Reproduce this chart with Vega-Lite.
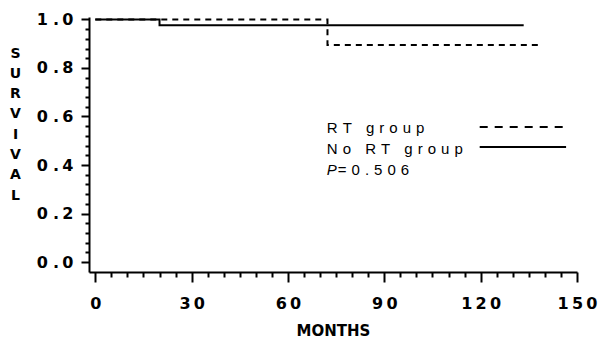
{
  "$schema": "https://vega.github.io/schema/vega-lite/v6.json",
  "width": 488,
  "height": 255,
  "autosize": "none",
  "padding": {"left": 89, "top": 17, "right": 21, "bottom": 67},
  "background": "white",
  "config": {"view": {"stroke": null}},
  "layer": [
    {
      "data": {"values": [
        {"group": "RT group", "month": 0, "surv": 1.0},
        {"group": "RT group", "month": 72.3, "surv": 0.895},
        {"group": "RT group", "month": 139.3, "surv": 0.895},
        {"group": "No RT group", "month": 0, "surv": 1.0},
        {"group": "No RT group", "month": 20, "surv": 0.976},
        {"group": "No RT group", "month": 133.4, "surv": 0.976}
      ]},
      "mark": {"type": "line", "interpolate": "step-after", "color": "black", "strokeWidth": 2},
      "encoding": {
        "x": {
          "field": "month", "type": "quantitative",
          "scale": {"domain": [-1.96, 150], "nice": false, "zero": false},
          "axis": {
            "title": "MONTHS",
            "values": [0,5,10,15,20,25,30,35,40,45,50,55,60,65,70,75,80,85,90,95,100,105,110,115,120,125,130,135,140,145,150],
            "tickCount": 100,
            "labelExpr": "datum.value % 30 === 0 ? join(split(datum.label, ''), '\u2009') : ''",
            "tickSize": {"condition": {"test": "datum.value % 30 === 0", "value": 10}, "value": 5},
            "tickWidth": 2, "tickColor": "black",
            "domainWidth": 2, "domainColor": "black",
            "grid": false,
            "labelFont": "DejaVu Sans", "labelFontWeight": "bold", "labelFontSize": 16, "labelColor": "black",
            "labelPadding": 13, "labelFlush": false, "labelOverlap": false,
            "titleFont": "DejaVu Sans", "titleFontWeight": "bold", "titleFontSize": 15, "titleColor": "black",
            "titleBaseline": "alphabetic", "titleY": 63
          }
        },
        "y": {
          "field": "surv", "type": "quantitative",
          "scale": {"domain": [-0.041, 1.01], "nice": false, "zero": false},
          "axis": {
            "title": ["S", "U", "R", "V", "I", "V", "A", "L"],
            "values": [0,0.04,0.08,0.12,0.16,0.2,0.24,0.28,0.32,0.36,0.4,0.44,0.48,0.52,0.56,0.6,0.64,0.68,0.72,0.76,0.8,0.84,0.88,0.92,0.96,1],
            "tickCount": 100,
            "labelExpr": "indexof([0,0.2,0.4,0.6,0.8,1], datum.value) >= 0 ? replace(format(datum.value, '.1f'), '.', '\u2004.\u2009') : ''",
            "tickSize": {"condition": {"test": "indexof([0,0.2,0.4,0.6,0.8,1], datum.value) >= 0", "value": 8}, "value": 4},
            "tickWidth": 2, "tickColor": "black",
            "domainWidth": 2, "domainColor": "black",
            "grid": false,
            "labelFont": "DejaVu Sans", "labelFontWeight": "bold", "labelFontSize": 16, "labelColor": "black",
            "labelPadding": 8, "labelFlush": false, "labelOverlap": false,
            "titleFont": "DejaVu Sans", "titleFontWeight": "bold", "titleFontSize": 14, "titleColor": "black",
            "titleAngle": 0, "titleAlign": "center", "titleBaseline": "alphabetic",
            "titleX": -74, "titleY": 40, "titleLineHeight": 20.3
          }
        },
        "strokeDash": {
          "field": "group", "type": "nominal",
          "scale": {"domain": ["RT group", "No RT group"], "range": [[6, 5], [1, 0]]},
          "legend": null
        }
      }
    },
    {
      "data": {"values": [{}]},
      "mark": {"type": "rule", "color": "black", "strokeWidth": 2, "strokeDash": [8, 7]},
      "encoding": {
        "x": {"datum": 119.7, "type": "quantitative"},
        "x2": {"datum": 145.6},
        "y": {"datum": 0.557, "type": "quantitative"}
      }
    },
    {
      "data": {"values": [{}]},
      "mark": {"type": "rule", "color": "black", "strokeWidth": 2},
      "encoding": {
        "x": {"datum": 119.7, "type": "quantitative"},
        "x2": {"datum": 146.6},
        "y": {"datum": 0.474, "type": "quantitative"}
      }
    },
    {
      "data": {"values": [{}]},
      "mark": {"type": "text", "align": "left", "baseline": "alphabetic", "font": "Liberation Sans", "fontSize": 15, "color": "black"},
      "encoding": {
        "x": {"datum": 72.1, "type": "quantitative"},
        "y": {"datum": 0.532, "type": "quantitative"},
        "text": {"value": "R\u2004T\u2004 \u2004g\u2004r\u2004o\u2004u\u2004p"}
      }
    },
    {
      "data": {"values": [{}]},
      "mark": {"type": "text", "align": "left", "baseline": "alphabetic", "font": "Liberation Sans", "fontSize": 15, "color": "black"},
      "encoding": {
        "x": {"datum": 72.1, "type": "quantitative"},
        "y": {"datum": 0.445, "type": "quantitative"},
        "text": {"value": "N\u2004o\u2004 \u2004R\u2004T\u2004 \u2004g\u2004r\u2004o\u2004u\u2004p"}
      }
    },
    {
      "data": {"values": [{}]},
      "mark": {"type": "text", "align": "left", "baseline": "alphabetic", "font": "Liberation Sans", "fontSize": 15, "fontStyle": "italic", "color": "black"},
      "encoding": {
        "x": {"datum": 72.1, "type": "quantitative"},
        "y": {"datum": 0.359, "type": "quantitative"},
        "text": {"value": "P"}
      }
    },
    {
      "data": {"values": [{}]},
      "mark": {"type": "text", "align": "left", "baseline": "alphabetic", "font": "Liberation Sans", "fontSize": 15, "color": "black", "dx": 11},
      "encoding": {
        "x": {"datum": 72.1, "type": "quantitative"},
        "y": {"datum": 0.359, "type": "quantitative"},
        "text": {"value": "=\u20040\u2004.\u20045\u20040\u20046"}
      }
    }
  ]
}
